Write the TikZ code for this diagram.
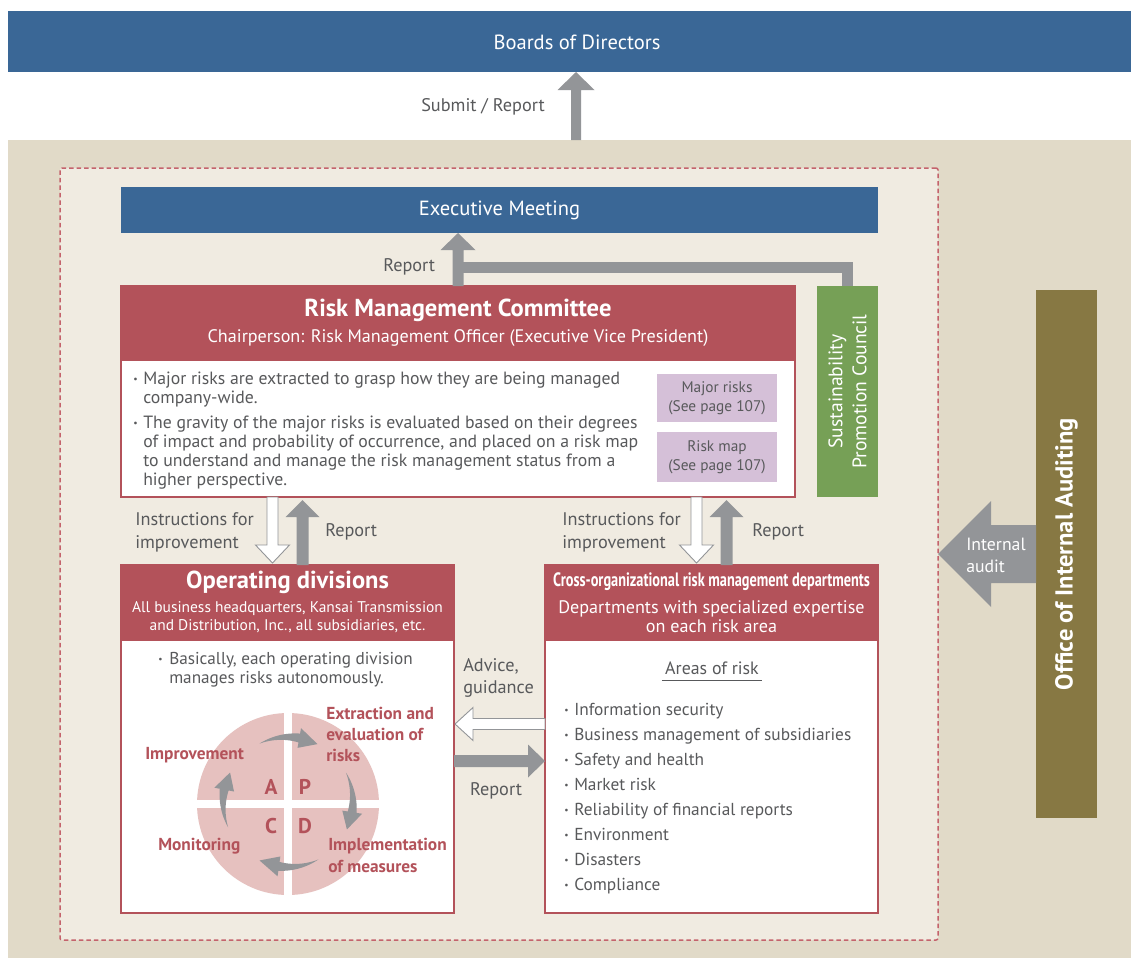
\documentclass[tikz,border=0pt]{standalone}
\usepackage{fontspec}
\setmainfont{PT Sans}
\usetikzlibrary{calc,arrows.meta}
\newdimen\pxu \pxu=0.75pt
\definecolor{boardblue}{HTML}{3A6796}
\definecolor{tanbg}{HTML}{E1DAC8}
\definecolor{innerbg}{HTML}{F0EBE1}
\definecolor{riskred}{HTML}{B3525A}
\definecolor{dashred}{HTML}{C4636C}
\definecolor{arrowgray}{HTML}{939598}
\definecolor{lilac}{HTML}{D5C0D8}
\definecolor{councilgreen}{HTML}{76A056}
\definecolor{auditolive}{HTML}{877843}
\definecolor{pdcapink}{HTML}{E6C1BF}
\definecolor{txtgray}{HTML}{58595B}

% straight block arrow: [style]{from}{to}{half shaft}{half head}{head length}
\newcommand\blockarrow[6][]{%
  \path[#1] let \p1=(#2), \p2=(#3),
      \n1={atan2(\y2-\y1,\x2-\x1)}, \n2={veclen(\x2-\x1,\y2-\y1)} in
    [shift={(\p1)}, rotate=\n1]
    (0pt,#4\pxu) -- ({\n2*1pt-#6\pxu},#4\pxu) -- ({\n2*1pt-#6\pxu},#5\pxu) -- ({\n2*1pt},0pt)
    -- ({\n2*1pt-#6\pxu},-#5\pxu) -- ({\n2*1pt-#6\pxu},-#4\pxu) -- (0pt,-#4\pxu) -- cycle;}

% tapered curved arrow of the PDCA cycle: {start angle}{head base angle}{tip angle}
\newcommand\pdcaarrow[3]{%
  \fill[arrowgray]
    plot[domain=#1:#2, samples=18] ({288+(65+4.5*(\x-(#1))/((#2)-(#1)))*cos(\x)},{802+(65+4.5*(\x-(#1))/((#2)-(#1)))*sin(\x)})
    -- ({288+75*cos(#2)},{802+75*sin(#2)})
    -- ({288+65*cos(#3)},{802+65*sin(#3)})
    -- ({288+55*cos(#2)},{802+55*sin(#2)})
    -- plot[domain=#2:#1, samples=18] ({288+(65-4.5*(\x-(#1))/((#2)-(#1)))*cos(\x)},{802+(65-4.5*(\x-(#1))/((#2)-(#1)))*sin(\x)})
    -- cycle;}

% lines stacked from the baseline of the first one
\newcommand\tl[1]{\begin{tabular}[t]{@{}l@{}}#1\end{tabular}}
\newcommand\bul{\raisebox{0.1em}{\scalebox{0.55}{•}}}

\tikzset{
  bar/.style={anchor=north west, inner sep=0pt, outer sep=0pt},
  redbox/.style={bar, draw=riskred, line width=1.5\pxu, fill=white},
  redhead/.style={bar, fill=riskred},
  lilacbox/.style={bar, fill=lilac},
  whitetxt/.style={text=white, inner sep=0pt, align=center},
  graytxt/.style={text=txtgray, inner sep=0pt},
  lefttxt/.style={graytxt, anchor=base west},
  pdcalabel/.style={text=riskred, inner sep=0pt, anchor=base west},
  pdcaletter/.style={text=riskred, inner sep=0pt, font=\fontsize{16pt}{16pt}\selectfont\bfseries},
  blockgray/.style={fill=arrowgray},
  blockhollow/.style={fill=white, draw=arrowgray, line width=0.9\pxu, line join=miter},
}

\begin{document}
\begin{tikzpicture}[x=\pxu, y=-\pxu]
\useasboundingbox (0,0) rectangle (1131,958);
\fill[white] (0,0) rectangle (1131,958);

% board and surrounding areas
\node[bar, fill=boardblue, minimum width=1123\pxu, minimum height=61\pxu] (boards) at (8,11) {};
\node[whitetxt, font=\fontsize{15.4pt}{18pt}\selectfont] (boardstxt) at (577,42) {Boards of Directors};
\node[bar, fill=tanbg, minimum width=1123\pxu, minimum height=818\pxu] (tan) at (8,140) {};
\node[bar, fill=innerbg, draw=dashred, line width=1.5\pxu, dash pattern=on 4.5\pxu off 3\pxu,
      rounded corners=2\pxu, minimum width=878\pxu, minimum height=772\pxu] (frame) at (60,168) {};

% submit / report to the board
\coordinate (subA) at (576,140);
\blockarrow[blockgray]{subA}{subA |- boards.south}{5}{18.5}{18}
\node[graytxt, font=\fontsize{13.7pt}{16pt}\selectfont] (subtxt) at (483,107) {Submit / Report};

% executive meeting
\node[bar, fill=boardblue, minimum width=757\pxu, minimum height=46\pxu] (exec) at (121,187) {};
\node[whitetxt, font=\fontsize{15.4pt}{18pt}\selectfont] (exectxt) at (exec.center) {Executive Meeting};

% risk management committee
\node[redbox, minimum width=674\pxu, minimum height=211\pxu] (rmc) at (121,286) {};
\node[redhead, minimum width=674\pxu, minimum height=75\pxu] (rmchead) at (121,286) {};
\node[whitetxt, font=\fontsize{18.4pt}{21pt}\selectfont\bfseries] (rmctitle) at (458,310) {Risk Management Committee};
\node[whitetxt, font=\fontsize{13.6pt}{16pt}\selectfont] (rmcchair) at (458,338)
  {Chairperson: Risk Management Officer (Executive Vice President)};
\begin{scope}[every node/.append style={font=\fontsize{13.3pt}{14.25pt}\selectfont}]
\node[lefttxt] (b1) at (133,384) {\bul};
\node[lefttxt] (rmct1) at (143,384)
  {\tl{Major risks are extracted to grasp how they are being managed\\company-wide.}};
\node[lefttxt] (b2) at (133,428) {\bul};
\node[lefttxt] (rmct2) at (143,428)
  {\tl{The gravity of the major risks is evaluated based on their degrees\\of impact and probability of occurrence, and placed on a risk map\\to understand and manage the risk management status from a\\higher perspective.}};
\end{scope}
\node[lilacbox, minimum width=120\pxu, minimum height=48\pxu] (majr) at (657,374) {};
\node[graytxt, align=center, font=\fontsize{11.5pt}{14.25pt}\selectfont] (majrtxt) at (majr.center) {Major risks\\(See page 107)};
\node[lilacbox, minimum width=120\pxu, minimum height=50\pxu] (rmap) at (657,432) {};
\node[graytxt, align=center, font=\fontsize{11.5pt}{14.25pt}\selectfont] (rmaptxt) at (rmap.center) {Risk map\\(See page 107)};

% sustainability promotion council
\node[bar, fill=councilgreen, minimum width=61\pxu, minimum height=211\pxu] (council) at (817,286) {};
\node[whitetxt, rotate=90, font=\fontsize{14.7pt}{18pt}\selectfont] (counciltxt) at (council.center)
  {Sustainability\\Promotion Council};

% reports up to the executive meeting
\draw[arrowgray, line width=11\pxu, line join=miter] (council.north) |- ($(rmc.north)+(0,-19)$);
\blockarrow[blockgray]{rmc.north}{rmc.north |- exec.south}{5.5}{17.5}{17}

% operating divisions
\node[redbox, minimum width=333\pxu, minimum height=348\pxu] (op) at (121,565) {};
\node[redhead, minimum width=333\pxu, minimum height=76\pxu] (ophead) at (121,565) {};
\node[whitetxt, font=\fontsize{18.4pt}{21pt}\selectfont\bfseries] (optitle) at (287.5,582) {Operating divisions};
\node[whitetxt, font=\fontsize{11.6pt}{13.5pt}\selectfont] (opsub) at (287.5,617)
  {All business headquarters, Kansai Transmission\\and Distribution, Inc., all subsidiaries, etc.};
\begin{scope}[every node/.append style={font=\fontsize{12.9pt}{14.25pt}\selectfont}]
\node[lefttxt] (b3) at (158,664) {\bul};
\node[lefttxt] (opt1) at (169,664) {\tl{Basically, each operating division\\manages risks autonomously.}};
\end{scope}

% PDCA cycle
\node[circle, fill=pdcapink, minimum size=182\pxu, inner sep=0pt] (pdca) at (288,804) {};
\fill[white] ($(pdca.north)+(-4,-1)$) rectangle ($(pdca.south)+(4,1)$);
\fill[white] ($(pdca.west)+(-1,-4)$) rectangle ($(pdca.east)+(1,4)$);
\node[pdcaletter] (pa) at (271,787) {A};
\node[pdcaletter] (pp) at (305,787) {P};
\node[pdcaletter] (pc) at (271,826) {C};
\node[pdcaletter] (pd) at (305,826) {D};
\pdcaarrow{-116}{-80}{-63}
\pdcaarrow{-27}{9}{25}
\pdcaarrow{62}{98}{116}
\pdcaarrow{157}{191}{207}
\node[pdcalabel, font=\fontsize{13pt}{15.75pt}\selectfont\bfseries] (lp) at (326,719) {\tl{Extraction and\\evaluation of\\risks}};
\node[pdcalabel, font=\fontsize{13pt}{15.75pt}\selectfont\bfseries] (la) at (145,759) {Improvement};
\node[pdcalabel, font=\fontsize{13pt}{15.75pt}\selectfont\bfseries] (lc) at (158,850) {Monitoring};
\node[pdcalabel, font=\fontsize{13pt}{16.5pt}\selectfont\bfseries] (ld) at (328,850) {\tl{Implementation\\of measures}};

% cross-organizational departments
\node[redbox, minimum width=333\pxu, minimum height=348\pxu] (cross) at (545,565) {};
\node[redhead, minimum width=333\pxu, minimum height=76\pxu] (crosshead) at (545,565) {};
\node[whitetxt, font=\fontsize{14.5pt}{16pt}\selectfont\bfseries] (crosstitle) at (711.5,582)
  {\resizebox{317\pxu}{\height}{Cross-organizational risk management departments}};
\node[whitetxt, font=\fontsize{13.6pt}{14.25pt}\selectfont] (crosssub) at (711.5,617)
  {Departments with specialized expertise\\on each risk area};
\node[graytxt, font=\fontsize{13.4pt}{15pt}\selectfont] (areas) at (712,668) {Areas of risk};
\draw[txtgray, line width=1\pxu] ($(areas.south west)+(-3,6)$) -- ($(areas.south east)+(3,6)$);
\foreach \t [count=\i from 0] in {Information security, Business management of subsidiaries,
    Safety and health, Market risk, Reliability of financial reports, Environment, Disasters, Compliance}{
  \node[lefttxt, font=\fontsize{13pt}{15pt}\selectfont] (ab\i) at (564,{715+25*\i}) {\bul};
  \node[lefttxt, font=\fontsize{13pt}{15pt}\selectfont] (at\i) at (574,{715+25*\i}) {\t};
}

% instructions and reports between the committee and the divisions
\coordinate (opL) at ($(op.north)+(-15,-2)$);
\coordinate (opR) at ($(op.north)+(15,0)$);
\coordinate (crL) at ($(cross.north)+(-15,-2)$);
\coordinate (crR) at ($(cross.north)+(15,0)$);
\blockarrow[blockhollow]{opL |- rmc.south}{opL}{5.5}{17}{18}
\blockarrow[blockgray]{opR}{$(opR |- rmc.south)+(0,3)$}{6}{17}{17}
\blockarrow[blockhollow]{crL |- rmc.south}{crL}{5.5}{17}{18}
\blockarrow[blockgray]{crR}{$(crR |- rmc.south)+(0,3)$}{6}{17}{17}
\begin{scope}[every node/.append style={font=\fontsize{13.7pt}{17.25pt}\selectfont}]
\node[lefttxt] (instr1) at (135,525) {\tl{Instructions for\\improvement}};
\node[graytxt, anchor=west] (rep1) at (325,532) {Report};
\node[lefttxt] (instr2) at (562,525) {\tl{Instructions for\\improvement}};
\node[graytxt, anchor=west] (rep2) at (752,532) {Report};
\node[graytxt, anchor=west] (rep0) at (383,267) {Report};
\end{scope}

% advice and reports between the divisions
\coordinate (adv) at ($(cross.north west)+(0,159)$);
\coordinate (rpt) at ($(op.north east)+(0,196)$);
\blockarrow[blockhollow]{adv}{$(adv -| op.east)+(1,0)$}{5.5}{16.5}{18}
\blockarrow[blockgray]{rpt}{rpt -| cross.west}{6}{16.5}{17}
\begin{scope}[every node/.append style={font=\fontsize{13.7pt}{16.5pt}\selectfont}]
\node[lefttxt] (advtxt) at (463,671) {\tl{Advice,\\guidance}};
\node[graytxt] (rep3) at (496,791) {Report};
\end{scope}

% internal auditing
\node[bar, fill=auditolive, minimum width=61\pxu, minimum height=528\pxu] (office) at (1036,290) {};
\node[whitetxt, rotate=90, font=\fontsize{18.4pt}{21pt}\selectfont\bfseries] (officetxt) at (office.center)
  {Office of Internal Auditing};
\blockarrow[blockgray]{office.west}{office.west -| frame.east}{29}{53}{53}
\node[pdcalabel, text=white, font=\fontsize{13.3pt}{16.5pt}\selectfont] (audtxt) at (966,550)
  {\tl{Internal\\audit}};
\end{tikzpicture}
\end{document}
